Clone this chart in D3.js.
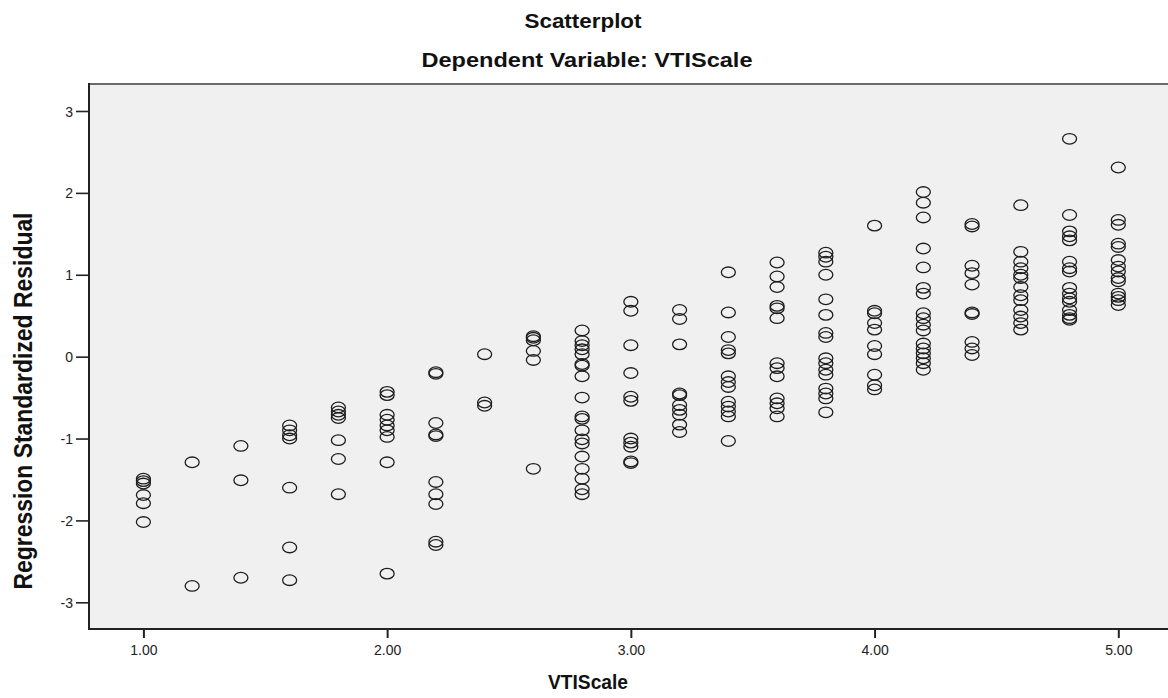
<!DOCTYPE html>
<html>
<head>
<meta charset="utf-8">
<script src="https://cdn.jsdelivr.net/npm/d3@7/dist/d3.min.js"></script>
<style>
  html, body { margin: 0; padding: 0; background: #ffffff; }
  svg { display: block; }
  text { font-family: "Liberation Sans", Arial, sans-serif; fill: #1a1a1a; }
</style>
</head>
<body>
<svg id="chart" width="1168" height="698"></svg>
<script>
// VTIScale levels (x) and the standardized residuals observed at each level (y)
const vtiLevels = [1.0, 1.2, 1.4, 1.6, 1.8, 2.0, 2.2, 2.4, 2.6, 2.8, 3.0,
                   3.2, 3.4, 3.6, 3.8, 4.0, 4.2, 4.4, 4.6, 4.8, 5.0];

const residuals = [
  [-1.49, -1.52, -1.55, -1.69, -1.79, -2.02],                                  // 1.0
  [-1.29, -2.80],                                                              // 1.2
  [-1.09, -1.51, -2.70],                                                       // 1.4
  [-0.84, -0.90, -0.96, -1.00, -1.60, -2.33, -2.73],                           // 1.6
  [-0.62, -0.67, -0.71, -0.75, -1.02, -1.25, -1.68],                           // 1.8
  [-0.43, -0.47, -0.71, -0.77, -0.84, -0.90, -0.98, -1.29, -2.65],             // 2.0
  [-0.19, -0.21, -0.81, -0.95, -0.97, -1.53, -1.68, -1.80, -2.26, -2.30],      // 2.2
  [0.03, -0.56, -0.60],                                                        // 2.4
  [0.25, 0.23, 0.20, 0.07, -0.04, -1.37],                                      // 2.6
  [0.32, 0.19, 0.14, 0.09, 0.03, -0.09, -0.11, -0.24, -0.50, -0.73, -0.76,
   -0.90, -1.01, -1.06, -1.22, -1.37, -1.49, -1.62, -1.68],                    // 2.8
  [0.67, 0.56, 0.14, -0.20, -0.49, -0.54, -1.00, -1.05, -1.10, -1.28, -1.30],  // 3.0
  [0.57, 0.46, 0.15, -0.45, -0.47, -0.59, -0.65, -0.71, -0.83, -0.92],         // 3.2
  [1.03, 0.54, 0.24, 0.08, 0.04, -0.24, -0.31, -0.37, -0.55, -0.61, -0.67,
   -0.73, -1.03],                                                              // 3.4
  [1.15, 0.98, 0.85, 0.62, 0.59, 0.47, -0.08, -0.14, -0.24, -0.51, -0.57,
   -0.63, -0.73],                                                              // 3.6
  [1.27, 1.22, 1.16, 1.00, 0.70, 0.51, 0.29, 0.24, -0.02, -0.08, -0.16,
   -0.22, -0.39, -0.45, -0.51, -0.68],                                         // 3.8
  [1.60, 0.56, 0.53, 0.41, 0.33, 0.13, 0.03, -0.22, -0.35, -0.40],             // 4.0
  [2.01, 1.88, 1.70, 1.32, 1.09, 0.84, 0.77, 0.53, 0.47, 0.39, 0.32, 0.16,
   0.10, 0.04, -0.02, -0.08, -0.16],                                           // 4.2
  [1.62, 1.59, 1.11, 1.02, 0.88, 0.54, 0.52, 0.18, 0.10, 0.02],                // 4.4
  [1.85, 1.28, 1.16, 1.08, 1.00, 0.96, 0.85, 0.75, 0.69, 0.57, 0.49, 0.41,
   0.33],                                                                      // 4.6
  [2.66, 1.73, 1.53, 1.47, 1.42, 1.16, 1.08, 1.04, 0.84, 0.77, 0.71, 0.67,
   0.57, 0.51, 0.47, 0.45],                                                    // 4.8
  [2.31, 1.67, 1.61, 1.38, 1.34, 1.18, 1.10, 1.04, 0.96, 0.92, 0.77, 0.73,
   0.69, 0.63]                                                                 // 5.0
];

const xTickValues = [1, 2, 3, 4, 5];
const yTickValues = [-3, -2, -1, 0, 1, 2, 3];

const titleText = "Scatterplot";
const subtitleText = "Dependent Variable: VTIScale";
const xTitle = "VTIScale";
const yTitle = "Regression Standardized Residual";

// flatten into point records
const points = [];
vtiLevels.forEach((lv, i) => residuals[i].forEach(r => points.push({ x: lv, y: r })));

// layout
const plot = { left: 89, top: 84, right: 1172, bottom: 629 };

const svg = d3.select("#chart");

const x = d3.scaleLinear().domain([1, 5]).range([143.4, 1118.3]);
const y = d3.scaleLinear().domain([-3, 3]).range([602.3, 111]);

// plot background
svg.append("rect")
  .attr("x", plot.left).attr("y", plot.top)
  .attr("width", plot.right - plot.left).attr("height", plot.bottom - plot.top)
  .attr("fill", "#f0f0f0");

// top frame edge
svg.append("line")
  .attr("x1", plot.left).attr("x2", plot.right)
  .attr("y1", plot.top).attr("y2", plot.top)
  .attr("stroke", "#6a6a6a").attr("stroke-width", 2);

// points
svg.append("g")
  .selectAll("ellipse")
  .data(points)
  .join("ellipse")
  .attr("cx", d => x(d.x))
  .attr("cy", d => y(d.y))
  .attr("rx", 7)
  .attr("ry", 5.3)
  .attr("fill", "none")
  .attr("stroke", "#1e1e1e")
  .attr("stroke-width", 1.3);

// x axis
const xAxis = svg.append("g")
  .attr("transform", `translate(0,${plot.bottom})`)
  .call(d3.axisBottom(x).tickValues(xTickValues).tickFormat(d3.format(".2f")).tickSize(9).tickSizeOuter(0));
xAxis.select(".domain").remove();
xAxis.selectAll(".tick line").attr("stroke", "#222").attr("stroke-width", 2);
xAxis.selectAll(".tick text")
  .attr("y", 26).attr("dy", 0)
  .style("font-size", "14px")
  .style("fill", "#222");

// y axis (plain hyphen for negative labels)
const yAxis = svg.append("g")
  .attr("transform", `translate(${plot.left},0)`)
  .call(d3.axisLeft(y).tickValues(yTickValues).tickFormat(d => String(d)).tickSize(13).tickSizeOuter(0));
yAxis.select(".domain").remove();
yAxis.selectAll(".tick line").attr("stroke", "#222").attr("stroke-width", 1.6);
yAxis.selectAll(".tick text")
  .attr("x", -16).attr("dy", "0.36em")
  .style("font-size", "14px")
  .style("fill", "#222");

// frame axis lines
svg.append("line")
  .attr("x1", plot.left).attr("x2", plot.left)
  .attr("y1", plot.top - 1).attr("y2", plot.bottom + 1)
  .attr("stroke", "#222").attr("stroke-width", 2);
svg.append("line")
  .attr("x1", plot.left - 1).attr("x2", plot.right)
  .attr("y1", plot.bottom).attr("y2", plot.bottom)
  .attr("stroke", "#222").attr("stroke-width", 2);

// titles: fitted to a set run length
function label(txt, tx, ty, size, len, sx, extra) {
  svg.append("g")
    .attr("transform", `translate(${tx},${ty}) scale(${sx},1)` + (extra || ""))
    .append("text")
    .attr("text-anchor", "middle")
    .attr("textLength", len)
    .attr("lengthAdjust", "spacingAndGlyphs")
    .style("font-size", size + "px")
    .style("font-weight", "bold")
    .style("fill", "#111")
    .text(txt);
}
label(titleText, 583, 28, 21, 117, 1, "");
label(subtitleText, 587, 67, 21, 331, 1, "");
label(xTitle, 588, 689, 21, 80, 1, "");
label(yTitle, 32, 401, 22, 377, 1.2, " rotate(-90)");
</script>
</body>
</html>
